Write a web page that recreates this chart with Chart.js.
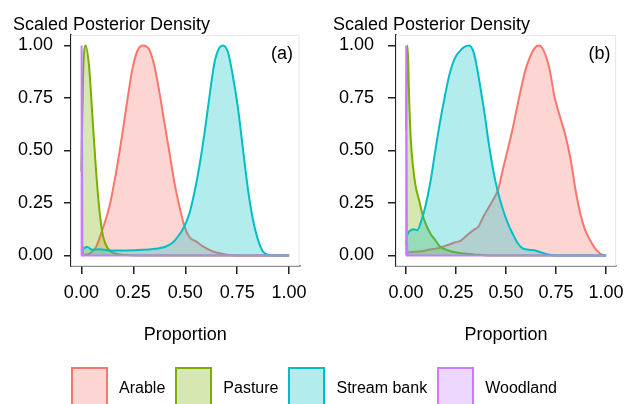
<!DOCTYPE html>
<html>
<head>
<meta charset="utf-8">
<script src="https://cdn.jsdelivr.net/npm/chart.js@4.4.1/dist/chart.umd.min.js"></script>
<style>
  html, body { margin:0; padding:0; background:#fff; width:632px; height:404px; overflow:hidden;
    font-family:"Liberation Sans", Arial, sans-serif; }
  #ca { position:absolute; left:0; top:0; }
  #cb { position:absolute; left:320px; top:0; }
  #legend { position:absolute; left:-2px; top:368px; width:632px; height:40px; display:flex;
    justify-content:center; align-items:center; }
  .item { display:flex; align-items:center; margin:0 5px; }
  .box { width:33px; height:38px; border:2px solid; margin-right:11px; box-sizing:content-box; }
  .lab { font-size:16px; color:#000; }
</style>
</head>
<body>
<canvas id="ca" width="320" height="404"></canvas>
<canvas id="cb" width="312" height="404"></canvas>
<div id="legend"></div>
<script>
// ---- labels & categories ----
const sourceNames = ['Arable', 'Pasture', 'Stream bank', 'Woodland'];
const sourceColors = ['#F8766D', '#7CAE00', '#00BFC4', '#C77CFF'];
const panelLabels = ['(a)', '(b)'];
const xTickValues = [0, 0.25, 0.5, 0.75, 1];
const yTickValues = [0, 0.25, 0.5, 0.75, 1];
const yTitle = 'Scaled Posterior Density';
const xTitle = 'Proportion';

// ---- panel (a) ----
const aArableX = [0, 0.013, 0.04, 0.07, 0.10, 0.134, 0.166, 0.198, 0.222, 0.246, 0.27, 0.295, 0.327, 0.351, 0.375, 0.40, 0.424, 0.448, 0.472, 0.496, 0.52, 0.552, 0.585, 0.633, 0.68, 0.73, 0.8, 1.0];
const aArableY = [0, 0.002, 0.01, 0.04, 0.12, 0.23, 0.39, 0.585, 0.745, 0.89, 0.975, 1.0, 0.98, 0.905, 0.78, 0.63, 0.49, 0.346, 0.234, 0.14, 0.088, 0.067, 0.043, 0.019, 0.008, 0.001, 0, 0];
const aPastureX = [0, 0.008, 0.02, 0.037, 0.053, 0.069, 0.085, 0.101, 0.118, 0.142, 0.166, 0.214, 0.28, 1.0];
const aPastureY = [0.4, 0.85, 1.0, 0.9, 0.665, 0.425, 0.234, 0.107, 0.05, 0.019, 0.008, 0.002, 0, 0];
const aStreamX = [0, 0.013, 0.029, 0.053, 0.085, 0.134, 0.214, 0.295, 0.375, 0.407, 0.44, 0.472, 0.496, 0.52, 0.544, 0.568, 0.593, 0.617, 0.641, 0.665, 0.681, 0.705, 0.729, 0.754, 0.778, 0.802, 0.826, 0.85, 0.874, 0.899, 0.923, 1.0];
const aStreamY = [0.02, 0.035, 0.04, 0.027, 0.03, 0.024, 0.024, 0.027, 0.035, 0.043, 0.062, 0.10, 0.14, 0.20, 0.30, 0.425, 0.585, 0.76, 0.92, 0.99, 1.0, 0.97, 0.856, 0.70, 0.505, 0.314, 0.17, 0.075, 0.019, 0.003, 0, 0];
const aWoodlandX = [0, 0.001, 0.005, 0.01, 1.0];
const aWoodlandY = [0, 1.0, 0.05, 0, 0];

// ---- panel (b) ----
const bArableX = [0, 0.02, 0.065, 0.113, 0.161, 0.21, 0.242, 0.274, 0.306, 0.339, 0.363, 0.387, 0.411, 0.435, 0.46, 0.484, 0.508, 0.532, 0.556, 0.581, 0.597, 0.621, 0.645, 0.665, 0.694, 0.718, 0.742, 0.774, 0.798, 0.823, 0.847, 0.871, 0.895, 0.919, 0.944, 0.968, 0.992, 1.0];
const bArableY = [0.01, 0.016, 0.019, 0.027, 0.035, 0.05, 0.062, 0.071, 0.098, 0.122, 0.138, 0.186, 0.225, 0.265, 0.313, 0.41, 0.503, 0.60, 0.71, 0.82, 0.884, 0.948, 0.99, 1.0, 0.963, 0.884, 0.757, 0.646, 0.567, 0.456, 0.313, 0.2, 0.122, 0.075, 0.035, 0.011, 0, 0];
const bPastureX = [0, 0.005, 0.008, 0.016, 0.024, 0.035, 0.048, 0.065, 0.081, 0.097, 0.121, 0.145, 0.169, 0.194, 0.226, 0.274, 0.339, 0.42, 1.0];
const bPastureY = [0.6, 0.95, 1.0, 0.74, 0.55, 0.424, 0.33, 0.265, 0.2, 0.154, 0.106, 0.075, 0.043, 0.03, 0.019, 0.011, 0.005, 0, 0];
const bStreamX = [0, 0.005, 0.024, 0.04, 0.056, 0.073, 0.097, 0.121, 0.145, 0.169, 0.194, 0.218, 0.242, 0.266, 0.292, 0.315, 0.339, 0.363, 0.379, 0.395, 0.411, 0.435, 0.46, 0.484, 0.508, 0.532, 0.556, 0.581, 0.613, 0.645, 0.677, 0.71, 0.758, 1.0];
const bStreamY = [0.05, 0.09, 0.12, 0.125, 0.12, 0.155, 0.235, 0.345, 0.49, 0.63, 0.757, 0.865, 0.935, 0.97, 0.993, 1.0, 0.965, 0.85, 0.757, 0.66, 0.55, 0.41, 0.30, 0.22, 0.155, 0.106, 0.062, 0.035, 0.027, 0.024, 0.014, 0.005, 0, 0];
const bWoodlandX = [0, 0.001, 0.005, 0.01, 1.0];
const bWoodlandY = [0, 1.0, 0.05, 0, 0];

// ---- helpers ----
const FONT = "'Liberation Sans', Arial, sans-serif";
const TXT = '#000';
function rgba(hex, a) {
  const n = parseInt(hex.slice(1), 16);
  return `rgba(${(n >> 16) & 255},${(n >> 8) & 255},${n & 255},${a})`;
}

const panelDeco = {
  id: 'panelDeco',
  beforeDatasetsDraw(chart) {
    const { ctx, chartArea: a } = chart;
    ctx.save();
    ctx.strokeStyle = '#e6e6e6';
    ctx.lineWidth = 1;
    ctx.strokeRect(a.left + 0.5, a.top + 0.5, a.right - a.left - 1, a.bottom - a.top - 1);
    ctx.restore();
  },
  afterDraw(chart, args, opts) {
    const { ctx, chartArea: a } = chart;
    ctx.save();
    ctx.fillStyle = TXT;
    ctx.font = `18px ${FONT}`;
    ctx.textAlign = 'left';
    ctx.textBaseline = 'alphabetic';
    ctx.fillText(yTitle, opts.titleX, 30);
    ctx.textAlign = 'right';
    ctx.textBaseline = 'middle';
    ctx.fillText(opts.label, a.right - opts.labelRight, a.top + 19);
    ctx.restore();
  }
};

function makeChart(id, label, curves, geo) {
  const datasets = curves.map((c, i) => ({
    label: sourceNames[i],
    data: c[0].map((x, j) => ({ x: x, y: c[1][j] })),
    borderColor: sourceColors[i],
    backgroundColor: rgba(sourceColors[i], 0.3),
    borderWidth: 2,
    fill: 'origin',
    pointRadius: 0,
    cubicInterpolationMode: i === 3 ? 'default' : 'monotone',
    tension: 0,
    order: 3 - i
  }));
  const tickFont = { family: FONT, size: 18 };
  new Chart(document.getElementById(id), {
    type: 'line',
    data: { datasets },
    options: {
      responsive: false,
      animation: false,
      devicePixelRatio: 1,
      layout: { padding: { left: 0, top: 35, right: geo.right, bottom: 58 } },
      plugins: {
        legend: { display: false },
        tooltip: { enabled: false },
        panelDeco: { label: label, titleX: geo.titleX, labelRight: geo.labelRight }
      },
      scales: {
        x: {
          type: 'linear', min: -0.05, max: 1.05,
          afterBuildTicks: s => { s.ticks = xTickValues.map(v => ({ value: v })); },
          afterFit: s => { s.height = 80; },
          ticks: { font: tickFont, color: TXT, padding: 8, maxRotation: 0, autoSkip: false,
                   callback: v => Number(v).toFixed(2) },
          grid: { drawOnChartArea: false, drawTicks: true, tickLength: 8, color: '#222', lineWidth: 1.5 },
          border: { display: true, color: '#222', width: 1.5 },
          title: { display: true, text: xTitle, font: tickFont, color: TXT, padding: 0 }
        },
        y: {
          type: 'linear', min: -0.05, max: 1.05,
          afterBuildTicks: s => { s.ticks = yTickValues.map(v => ({ value: v })); },
          afterFit: s => { s.width = geo.yWidth; },
          ticks: { font: tickFont, color: TXT, padding: geo.yPad, autoSkip: false,
                   callback: v => Number(v).toFixed(2) },
          grid: { drawOnChartArea: false, drawTicks: true, tickLength: geo.yTick, color: '#222', lineWidth: 1.5 },
          border: { display: true, color: '#222', width: 1.5 }
        }
      }
    },
    plugins: [panelDeco]
  });
}

makeChart('ca', panelLabels[0],
  [[aArableX, aArableY], [aPastureX, aPastureY], [aStreamX, aStreamY], [aWoodlandX, aWoodlandY]],
  { right: 20.5, yWidth: 71, yPad: 11, yTick: 7, titleX: 13, labelRight: 6.5 });
makeChart('cb', panelLabels[1],
  [[bArableX, bArableY], [bPastureX, bPastureY], [bStreamX, bStreamY], [bWoodlandX, bWoodlandY]],
  { right: 8.5, yWidth: 76, yPad: 14, yTick: 8, titleX: 13, labelRight: 5.5 });

// ---- legend ----
const legend = document.getElementById('legend');
sourceNames.forEach((name, i) => {
  const item = document.createElement('div');
  item.className = 'item';
  const box = document.createElement('div');
  box.className = 'box';
  box.style.borderColor = sourceColors[i];
  box.style.background = rgba(sourceColors[i], 0.3);
  const lab = document.createElement('span');
  lab.className = 'lab';
  lab.textContent = name;
  item.appendChild(box);
  item.appendChild(lab);
  legend.appendChild(item);
});
</script>
</body>
</html>
